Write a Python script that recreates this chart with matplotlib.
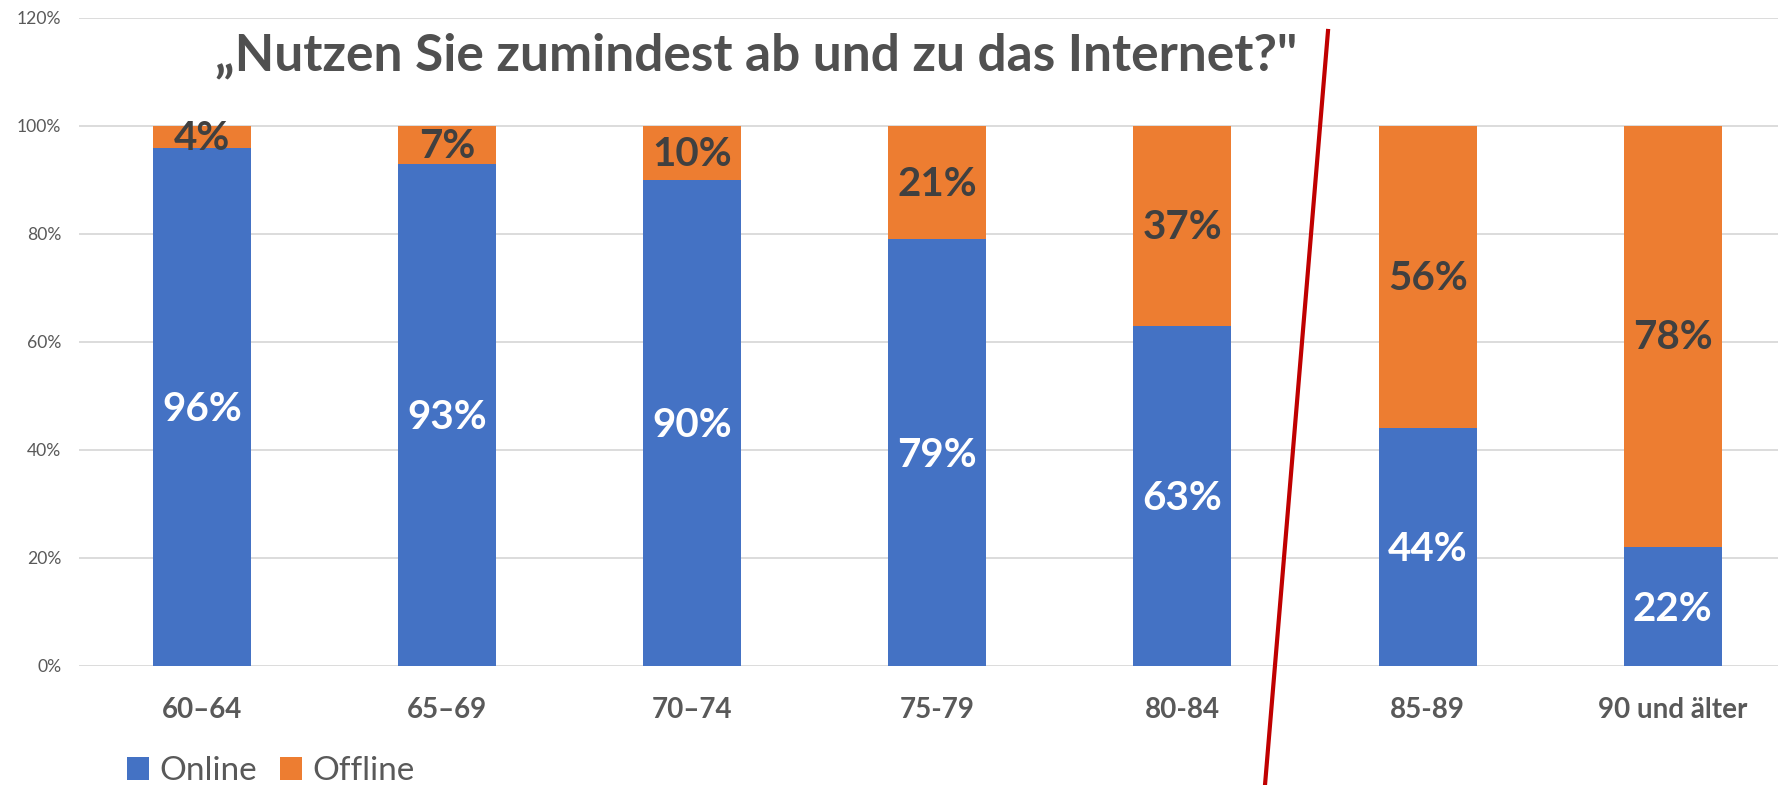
import matplotlib
matplotlib.use("Agg")
import matplotlib.pyplot as plt
from matplotlib.lines import Line2D
from matplotlib.patches import Patch
import numpy as np

categories = ["60–64", "65–69", "70–74", "75-79", "80-84", "85-89", "90 und älter"]
online = [96, 93, 90, 79, 63, 44, 22]
offline = [4, 7, 10, 21, 37, 56, 78]
yticks = [0, 20, 40, 60, 80, 100, 120]
title = "„Nutzen Sie zumindest ab und zu das Internet?\""

BLUE = "#4472C4"
ORANGE = "#ED7D31"
GRID = "#D9D9D9"
TXT = "#595959"
DARK = "#404040"

W, H = 1778, 785
fig = plt.figure(figsize=(W / 100, H / 100), dpi=100)
plt.rcParams["font.family"] = ["Lato", "DejaVu Sans"]

left_px, right_px = 79.2, 1778
bottom_px, top_px = 666, 18
ax = fig.add_axes([left_px / W, (H - bottom_px) / H, (right_px - left_px) / W, (bottom_px - top_px) / H])

x = np.arange(len(categories))
bw = 0.4
ax.bar(x, online, width=bw, color=BLUE, zorder=3)
ax.bar(x, offline, width=bw, bottom=online, color=ORANGE, zorder=3)

cat_px = 245.17
ax.set_xlim(-0.5, -0.5 + (right_px - left_px) / cat_px)
ax.set_ylim(0, 120)
ax.set_yticks(yticks)
ax.set_yticklabels([f"{v}%" for v in yticks])
ax.yaxis.grid(True, color=GRID, linewidth=1.3, zorder=0)
ax.set_axisbelow(True)
for s in ax.spines.values():
    s.set_visible(False)
ax.tick_params(axis="y", length=0, pad=13, labelsize=12.6, labelcolor=TXT)
ax.set_xticks(x)
ax.set_xticklabels(categories)
ax.tick_params(axis="x", length=0, pad=22, labelsize=20, labelcolor=TXT)
for lab in ax.get_xticklabels():
    lab.set_fontweight("bold")

for i in range(len(categories)):
    ax.annotate(f"{online[i]}%", (x[i], online[i] / 2), xytext=(0, -2), textcoords="offset points",
                ha="center", va="center", color="white", fontsize=29, fontweight="bold", zorder=5)
    ax.annotate(f"{offline[i]}%", (x[i], online[i] + offline[i] / 2), xytext=(0, -1),
                textcoords="offset points", ha="center", va="center",
                color=DARK, fontsize=29, fontweight="bold", zorder=5)

fig.text(756 / W, 1 - 70 / H, title, ha="center", va="baseline",
         fontsize=37, fontweight="bold", color="#505050")

fig.add_artist(Line2D([1328 / W, 1265 / W], [1 - 31 / H, 0], transform=fig.transFigure,
                      color="#C00000", linewidth=3, zorder=10))

handles = [Patch(facecolor=BLUE), Patch(facecolor=ORANGE)]
leg = fig.legend(handles, ["Online", "Offline"], loc="upper left",
                 bbox_to_anchor=(127 / W, 1 - 756 / H), ncol=2, frameon=False,
                 fontsize=24, handlelength=0.66, handleheight=0.66,
                 handletextpad=0.3, columnspacing=0.7, borderpad=0, borderaxespad=0)
for t in leg.get_texts():
    t.set_color(TXT)

fig.savefig("out.png", dpi=100)
